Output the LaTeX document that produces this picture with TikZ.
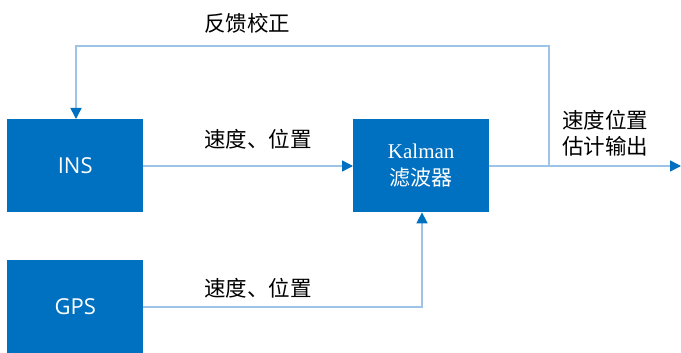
\documentclass[tikz,border=0pt]{standalone}
\usepackage{fontspec}
\setmainfont{Liberation Serif}
\newfontfamily\cjk{Noto Sans CJK SC}
\newfontfamily\latinsans{Open Sans}
\usetikzlibrary{arrows.meta}
\definecolor{boxblue}{HTML}{0070C0}
\definecolor{lineblue}{HTML}{9DC3E6}
\begin{document}
\begin{tikzpicture}[x=1pt,y=-1pt,
  blockbox/.style={fill=boxblue, draw=none, minimum width=136pt, minimum height=93pt, inner sep=0pt, text=white},
  conn/.style={draw=lineblue, line width=1.6pt, -{Triangle[length=11pt,width=11pt,color=boxblue]}},
  lbl/.style={font=\cjk\fontsize{21.5}{26}\selectfont, text=black, inner sep=0pt}]
\useasboundingbox (0,0) rectangle (681,353);
\node[blockbox, anchor=north west] (ins) at (7,119) {\latinsans\fontsize{22}{26}\selectfont INS};
\node[blockbox, anchor=north west] (gps) at (7,260) {\latinsans\fontsize{22}{26}\selectfont GPS};
\node[blockbox, anchor=north west, align=center, font=\fontsize{21}{27}\selectfont] (kal) at (353,119) {Kalman\\{\cjk 滤波器}};
\coordinate (split) at (549,166);
\coordinate (fbtop) at (549,46);
\coordinate (fbleft) at (76,46);
\coordinate (out) at (681,166);
\coordinate (gpscorner) at (422,307);
\draw[conn] (ins.east |- 0,166) -- (kal.west |- 0,166);
\draw[conn] (kal.east |- 0,166) -- (out);
\draw[conn] (split) -- (fbtop) -- (fbleft) -- (fbleft |- ins.north);
\draw[conn] (gps.east |- gpscorner) -- (gpscorner) -- (gpscorner |- kal.south);
\node[lbl] (fb) at (247,23) {反馈校正};
\node[lbl] (l1) at (258,139) {速度、位置};
\node[lbl] (l2) at (258,288) {速度、位置};
\node[lbl, align=center] (l3) at (605,133) {速度位置\\估计输出};
\end{tikzpicture}
\end{document}
